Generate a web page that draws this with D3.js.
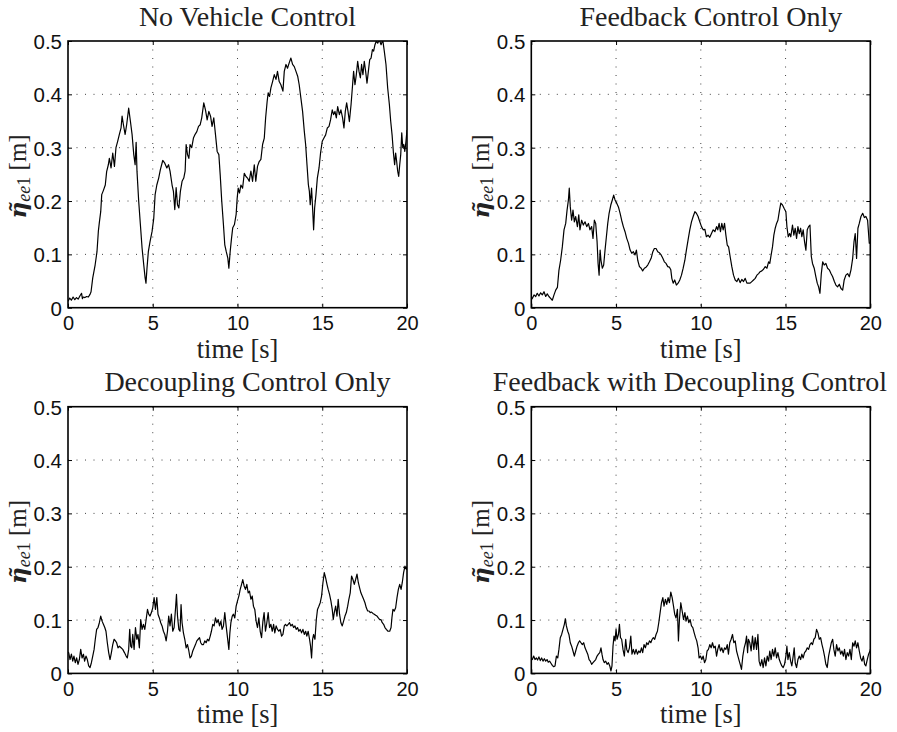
<!DOCTYPE html>
<html>
<head>
<meta charset="utf-8">
<script src="https://cdn.jsdelivr.net/npm/d3@7"></script>
<style>
  html, body { margin: 0; padding: 0; background: #fff; }
  svg { display: block; }
</style>
</head>
<body>
<svg id="chart" width="897" height="732"></svg>
<script>
// ---------------- data ----------------
const titles = ["No Vehicle Control", "Feedback Control Only", "Decoupling Control Only", "Feedback with Decoupling Control"];
const xTicks = [0, 5, 10, 15, 20];
const yTicks = [0, 0.1, 0.2, 0.3, 0.4, 0.5];
const yTickLabels = ["0", "0.1", "0.2", "0.3", "0.4", "0.5"];
const xTickLabels = ["0", "5", "10", "15", "20"];

// [time (s), eta (m)]
const noControl = [[0,.012],[.1,.018],[.2,.014],[.3,.02],[.4,.015],[.5,.019],[.6,.016],[.7,.022],[.8,.027],[.85,.017],[.9,.02],[1,.019],[1.1,.021],[1.2,.02],[1.3,.025],[1.36,.03],[1.46,.056],[1.6,.08],[1.71,.105],[1.79,.143],[1.85,.16],[1.93,.18],[1.99,.212],[2.09,.22],[2.2,.23],[2.28,.255],[2.38,.268],[2.44,.28],[2.54,.262],[2.64,.29],[2.74,.265],[2.83,.3],[2.93,.312],[3.03,.325],[3.13,.337],[3.19,.359],[3.27,.343],[3.37,.325],[3.46,.343],[3.58,.374],[3.68,.35],[3.78,.325],[3.88,.287],[3.96,.268],[4.02,.31],[4.07,.256],[4.17,.2],[4.27,.156],[4.37,.112],[4.47,.08],[4.55,.056],[4.6,.046],[4.66,.074],[4.74,.105],[4.84,.124],[4.96,.143],[5.06,.168],[5.14,.212],[5.24,.23],[5.35,.243],[5.45,.259],[5.59,.276],[5.71,.271],[5.83,.262],[5.93,.268],[6.02,.256],[6.14,.23],[6.22,.218],[6.3,.184],[6.38,.225],[6.46,.193],[6.54,.187],[6.63,.218],[6.73,.237],[6.83,.243],[6.91,.256],[6.97,.306],[7.05,.287],[7.13,.28],[7.2,.306],[7.3,.3],[7.4,.318],[7.5,.325],[7.6,.33],[7.7,.34],[7.8,.343],[7.89,.356],[8.01,.384],[8.11,.371],[8.21,.352],[8.31,.368],[8.41,.359],[8.5,.34],[8.6,.356],[8.7,.325],[8.8,.293],[8.9,.287],[8.98,.249],[9.07,.2],[9.17,.156],[9.25,.118],[9.33,.106],[9.43,.093],[9.49,.074],[9.57,.106],[9.65,.131],[9.72,.15],[9.82,.156],[9.92,.175],[9.98,.205],[10.04,.224],[10.12,.215],[10.2,.23],[10.3,.224],[10.4,.252],[10.5,.246],[10.59,.243],[10.69,.237],[10.79,.256],[10.89,.237],[10.99,.268],[11.08,.237],[11.18,.265],[11.28,.274],[11.38,.278],[11.48,.306],[11.58,.318],[11.66,.356],[11.75,.387],[11.81,.403],[11.89,.396],[11.97,.412],[12.07,.424],[12.17,.437],[12.27,.428],[12.36,.443],[12.46,.424],[12.56,.418],[12.68,.406],[12.76,.443],[12.86,.456],[12.95,.449],[13.05,.459],[13.15,.468],[13.25,.456],[13.35,.452],[13.45,.443],[13.55,.434],[13.64,.418],[13.74,.393],[13.84,.368],[13.94,.331],[14.02,.306],[14.1,.268],[14.18,.231],[14.24,.218],[14.29,.193],[14.37,.224],[14.43,.187],[14.49,.146],[14.55,.187],[14.63,.212],[14.71,.243],[14.81,.262],[14.9,.29],[15,.312],[15.1,.318],[15.2,.324],[15.3,.337],[15.4,.34],[15.49,.352],[15.59,.371],[15.67,.362],[15.75,.368],[15.83,.356],[15.91,.377],[16.01,.362],[16.1,.371],[16.2,.356],[16.28,.337],[16.36,.368],[16.44,.384],[16.52,.368],[16.6,.349],[16.7,.381],[16.79,.418],[16.85,.443],[16.93,.418],[17.01,.437],[17.09,.462],[17.17,.443],[17.25,.431],[17.32,.456],[17.4,.437],[17.48,.462],[17.56,.443],[17.64,.421],[17.72,.443],[17.8,.465],[17.88,.468],[17.96,.484],[18.03,.481],[18.11,.493],[18.19,.5],[18.27,.496],[18.37,.502],[18.47,.493],[18.57,.502],[18.66,.481],[18.76,.456],[18.86,.412],[18.96,.381],[19.04,.349],[19.12,.324],[19.2,.29],[19.27,.268],[19.33,.29],[19.39,.274],[19.45,.256],[19.51,.246],[19.57,.268],[19.63,.287],[19.69,.328],[19.75,.3],[19.81,.306],[19.87,.293],[19.94,.312],[20,.333]];

const feedbackOnly = [[0,.015],[.06,.0175],[.16,.024],[.26,.021],[.35,.027],[.45,.022],[.55,.028],[.65,.024],[.75,.03],[.85,.021],[.94,.026],[1.04,.021],[1.14,.0175],[1.24,.014],[1.34,.024],[1.44,.033],[1.54,.038],[1.63,.07],[1.73,.089],[1.83,.114],[1.93,.146],[2.03,.158],[2.11,.183],[2.19,.202],[2.24,.224],[2.3,.189],[2.38,.164],[2.46,.183],[2.54,.161],[2.62,.171],[2.72,.152],[2.8,.174],[2.87,.146],[2.97,.164],[3.07,.155],[3.17,.161],[3.27,.152],[3.37,.158],[3.46,.146],[3.56,.152],[3.64,.13],[3.72,.164],[3.8,.158],[3.88,.124],[3.94,.083],[4,.061],[4.06,.108],[4.11,.089],[4.19,.074],[4.27,.08],[4.35,.108],[4.43,.133],[4.51,.158],[4.59,.177],[4.69,.1925],[4.78,.202],[4.86,.211],[4.94,.202],[5.04,.196],[5.14,.189],[5.24,.177],[5.33,.164],[5.43,.152],[5.53,.1425],[5.63,.13],[5.73,.121],[5.83,.108],[5.93,.102],[6.02,.105],[6.12,.099],[6.2,.108],[6.28,.089],[6.38,.077],[6.48,.074],[6.57,.069],[6.67,.074],[6.77,.076],[6.87,.08],[6.97,.086],[7.07,.0925],[7.17,.105],[7.26,.111],[7.36,.111],[7.46,.105],[7.56,.103],[7.66,.099],[7.76,.0925],[7.85,.086],[7.95,.083],[8.05,.077],[8.15,.076],[8.23,.071],[8.29,.055],[8.37,.046],[8.46,.052],[8.56,.0425],[8.66,.046],[8.76,.052],[8.86,.061],[8.96,.074],[9.06,.089],[9.15,.108],[9.25,.127],[9.35,.146],[9.45,.161],[9.55,.171],[9.65,.18],[9.74,.177],[9.84,.171],[9.94,.161],[10.04,.152],[10.14,.146],[10.24,.147],[10.33,.133],[10.43,.136],[10.53,.132],[10.63,.139],[10.73,.146],[10.83,.1425],[10.93,.152],[11,.146],[11.08,.158],[11.16,.1425],[11.24,.158],[11.32,.146],[11.4,.158],[11.48,.136],[11.56,.1175],[11.64,.114],[11.73,.096],[11.83,.077],[11.93,.061],[12.03,.052],[12.13,.049],[12.22,.055],[12.32,.047],[12.42,.053],[12.52,.049],[12.62,.055],[12.72,.046],[12.81,.046],[12.91,.046],[13.01,.049],[13.11,.052],[13.21,.055],[13.31,.061],[13.41,.064],[13.5,.0675],[13.6,.069],[13.7,.072],[13.8,.077],[13.9,.074],[14,.086],[14.07,.083],[14.15,.099],[14.23,.114],[14.31,.136],[14.39,.149],[14.47,.158],[14.55,.164],[14.63,.18],[14.72,.196],[14.82,.1925],[14.92,.186],[15.02,.18],[15.08,.152],[15.16,.133],[15.24,.139],[15.31,.133],[15.41,.155],[15.49,.136],[15.57,.149],[15.65,.13],[15.73,.152],[15.81,.139],[15.89,.149],[15.96,.133],[16.04,.146],[16.12,.124],[16.2,.108],[16.28,.146],[16.36,.152],[16.44,.155],[16.52,.096],[16.59,.083],[16.69,.074],[16.79,.058],[16.87,.046],[16.95,.039],[17.03,.027],[17.11,.064],[17.19,.086],[17.28,.08],[17.38,.083],[17.48,.074],[17.58,.071],[17.68,.064],[17.78,.058],[17.88,.049],[17.97,.0425],[18.07,.039],[18.17,.044],[18.27,.036],[18.37,.033],[18.46,.052],[18.56,.061],[18.66,.064],[18.76,.058],[18.86,.071],[18.96,.0925],[19.04,.124],[19.11,.139],[19.19,.0925],[19.27,.149],[19.35,.158],[19.45,.171],[19.55,.177],[19.65,.169],[19.74,.171],[19.84,.164],[19.94,.121],[20,.121]];

const decouplingOnly = [[0,.04],[.04,.039],[.12,.026],[.2,.036],[.28,.023],[.35,.0325],[.43,.02],[.51,.029],[.59,.017],[.67,.026],[.75,.045],[.83,.029],[.91,.036],[.98,.023],[1.06,.0325],[1.14,.026],[1.22,.014],[1.3,.011],[1.38,.02],[1.46,.0325],[1.54,.045],[1.61,.064],[1.69,.0825],[1.77,.086],[1.85,.095],[1.93,.1075],[2.01,.098],[2.09,.092],[2.17,.086],[2.24,.079],[2.32,.0575],[2.4,.039],[2.48,.026],[2.56,.039],[2.64,.054],[2.72,.064],[2.8,.061],[2.87,.0575],[2.95,.048],[3.03,.051],[3.13,.048],[3.23,.045],[3.33,.039],[3.43,.0325],[3.5,.029],[3.58,.045],[3.64,.0825],[3.7,.051],[3.76,.048],[3.82,.073],[3.9,.045],[3.98,.086],[4.06,.064],[4.13,.073],[4.21,.048],[4.29,.101],[4.37,.0825],[4.45,.092],[4.53,.0825],[4.61,.101],[4.69,.12],[4.76,.111],[4.84,.1075],[4.92,.114],[5,.123],[5.08,.142],[5.16,.12],[5.24,.142],[5.31,.111],[5.39,.104],[5.47,.095],[5.55,.089],[5.63,.079],[5.71,.073],[5.79,.061],[5.87,.079],[5.94,.1075],[6.02,.089],[6.1,.111],[6.18,.079],[6.26,.086],[6.34,.12],[6.4,.148],[6.46,.1075],[6.54,.0825],[6.61,.079],[6.67,.129],[6.73,.095],[6.81,.076],[6.89,.064],[6.97,.048],[7.05,.054],[7.13,.042],[7.2,.029],[7.28,.0325],[7.36,.042],[7.44,.048],[7.52,.054],[7.6,.061],[7.68,.064],[7.76,.067],[7.83,.0575],[7.91,.054],[7.99,.054],[8.07,.061],[8.15,.0575],[8.23,.064],[8.31,.061],[8.39,.07],[8.46,.079],[8.54,.092],[8.62,.089],[8.7,.104],[8.78,.095],[8.86,.101],[8.94,.089],[9.02,.098],[9.09,.0825],[9.17,.089],[9.25,.114],[9.33,.089],[9.41,.067],[9.49,.045],[9.55,.076],[9.61,.095],[9.69,.1075],[9.76,.111],[9.84,.104],[9.92,.126],[10,.136],[10.08,.145],[10.16,.1575],[10.24,.167],[10.31,.176],[10.39,.164],[10.47,.1575],[10.55,.167],[10.63,.151],[10.71,.154],[10.79,.139],[10.87,.145],[10.94,.126],[11.02,.12],[11.1,.098],[11.18,.086],[11.26,.104],[11.34,.079],[11.42,.067],[11.5,.098],[11.57,.114],[11.65,.079],[11.73,.095],[11.81,.114],[11.89,.086],[11.97,.092],[12.05,.079],[12.13,.092],[12.2,.076],[12.28,.089],[12.36,.0825],[12.44,.079],[12.52,.0825],[12.6,.07],[12.68,.073],[12.76,.089],[12.83,.092],[12.91,.089],[12.99,.092],[13.07,.095],[13.15,.089],[13.23,.092],[13.31,.086],[13.39,.089],[13.46,.0825],[13.54,.086],[13.62,.079],[13.7,.0825],[13.78,.076],[13.86,.0825],[13.94,.073],[14.02,.079],[14.09,.07],[14.17,.079],[14.25,.064],[14.31,.051],[14.37,.029],[14.43,.064],[14.49,.073],[14.57,.064],[14.65,.101],[14.72,.12],[14.8,.126],[14.88,.1325],[14.96,.145],[15.04,.17],[15.12,.189],[15.2,.179],[15.28,.167],[15.35,.1575],[15.43,.148],[15.51,.136],[15.59,.12],[15.65,.101],[15.71,.114],[15.79,.126],[15.87,.1075],[15.94,.139],[16.02,.111],[16.1,.095],[16.18,.089],[16.26,.098],[16.34,.1075],[16.42,.114],[16.5,.126],[16.57,.139],[16.65,.151],[16.73,.1825],[16.81,.176],[16.89,.167],[16.97,.176],[17.05,.186],[17.13,.17],[17.2,.161],[17.28,.151],[17.36,.145],[17.44,.139],[17.52,.1325],[17.6,.123],[17.68,.117],[17.76,.117],[17.83,.114],[17.91,.115],[17.99,.1125],[18.07,.111],[18.15,.109],[18.23,.1075],[18.31,.104],[18.39,.101],[18.46,.101],[18.54,.095],[18.62,.092],[18.7,.086],[18.78,.0825],[18.88,.079],[18.98,.079],[19.06,.086],[19.11,.104],[19.17,.12],[19.25,.117],[19.33,.123],[19.41,.142],[19.49,.1575],[19.57,.167],[19.65,.1575],[19.72,.17],[19.8,.189],[19.88,.201],[19.96,.195],[20,.2]];

const feedbackDecoupling = [[0,.025],[.06,.026],[.14,.0325],[.22,.026],[.3,.029],[.37,.025],[.45,.031],[.53,.024],[.61,.029],[.69,.023],[.77,.0275],[.85,.023],[.93,.026],[1,.021],[1.08,.023],[1.16,.019],[1.24,.015],[1.32,.0125],[1.4,.014],[1.48,.0325],[1.56,.029],[1.63,.045],[1.71,.067],[1.79,.073],[1.87,.0825],[1.95,.092],[2.01,.1025],[2.07,.089],[2.15,.079],[2.22,.073],[2.3,.0575],[2.38,.051],[2.46,.042],[2.54,.0325],[2.62,.042],[2.7,.051],[2.78,.0575],[2.85,.061],[2.93,.0575],[3.01,.054],[3.09,.0575],[3.17,.048],[3.25,.042],[3.33,.036],[3.41,.026],[3.48,.023],[3.56,.017],[3.64,.02],[3.72,.023],[3.8,.026],[3.88,.0325],[3.96,.036],[4.04,.039],[4.11,.048],[4.17,.036],[4.23,.026],[4.31,.02],[4.39,.023],[4.47,.017],[4.55,.02],[4.63,.014],[4.7,.0045],[4.76,.014],[4.82,.051],[4.88,.07],[4.94,.061],[5,.0825],[5.06,.064],[5.14,.073],[5.2,.092],[5.26,.067],[5.33,.064],[5.41,.045],[5.49,.0325],[5.57,.064],[5.63,.045],[5.71,.039],[5.79,.048],[5.87,.07],[5.94,.036],[6.02,.045],[6.1,.036],[6.18,.045],[6.26,.036],[6.34,.042],[6.42,.039],[6.5,.048],[6.57,.039],[6.65,.054],[6.73,.048],[6.81,.0575],[6.89,.054],[6.97,.061],[7.05,.0575],[7.13,.064],[7.2,.067],[7.28,.064],[7.36,.073],[7.44,.079],[7.52,.095],[7.6,.114],[7.68,.1325],[7.76,.142],[7.83,.126],[7.91,.139],[7.99,.1295],[8.07,.142],[8.15,.1325],[8.23,.1525],[8.31,.142],[8.39,.126],[8.46,.111],[8.54,.104],[8.62,.12],[8.68,.061],[8.74,.101],[8.82,.1325],[8.9,.117],[8.98,.101],[9.06,.114],[9.13,.098],[9.21,.1075],[9.29,.095],[9.37,.101],[9.45,.089],[9.53,.086],[9.61,.076],[9.69,.067],[9.76,.061],[9.84,.048],[9.9,.029],[9.98,.0325],[10.06,.026],[10.14,.0325],[10.22,.02],[10.3,.026],[10.37,.042],[10.45,.045],[10.53,.054],[10.61,.048],[10.69,.0575],[10.77,.048],[10.85,.051],[10.93,.0325],[11,.045],[11.08,.054],[11.16,.042],[11.24,.048],[11.32,.039],[11.4,.048],[11.48,.045],[11.56,.054],[11.63,.036],[11.71,.0575],[11.79,.064],[11.87,.073],[11.95,.0575],[12.03,.061],[12.11,.042],[12.19,.0325],[12.27,.023],[12.35,.014],[12.4,.0075],[12.48,.0325],[12.56,.048],[12.64,.0575],[12.7,.07],[12.76,.039],[12.81,.064],[12.89,.0575],[12.97,.042],[13.05,.07],[13.13,.045],[13.21,.067],[13.29,.045],[13.37,.073],[13.44,.023],[13.52,.014],[13.6,.026],[13.68,.011],[13.76,.029],[13.84,.014],[13.92,.0325],[14,.023],[14.07,.042],[14.15,.026],[14.23,.045],[14.31,.0325],[14.39,.048],[14.47,.029],[14.55,.039],[14.63,.026],[14.7,.02],[14.78,.014],[14.86,.011],[14.94,.017],[15.02,.0325],[15.08,.051],[15.14,.026],[15.22,.039],[15.3,.023],[15.37,.014],[15.45,.0325],[15.51,.048],[15.57,.02],[15.65,.011],[15.73,.026],[15.81,.0325],[15.89,.026],[15.96,.036],[16.04,.029],[16.12,.039],[16.2,.042],[16.28,.048],[16.36,.045],[16.44,.054],[16.52,.0575],[16.59,.054],[16.67,.064],[16.75,.067],[16.83,.0825],[16.91,.076],[16.99,.064],[17.07,.067],[17.15,.054],[17.22,.045],[17.3,.0325],[17.38,.017],[17.46,.011],[17.54,.0325],[17.62,.045],[17.7,.0575],[17.78,.064],[17.85,.045],[17.93,.0325],[18.01,.054],[18.09,.042],[18.17,.048],[18.25,.036],[18.33,.042],[18.41,.0325],[18.48,.045],[18.56,.026],[18.64,.039],[18.72,.0325],[18.8,.045],[18.88,.026],[18.96,.0575],[19.04,.051],[19.11,.061],[19.19,.048],[19.27,.0575],[19.35,.042],[19.43,.029],[19.51,.023],[19.59,.0325],[19.67,.017],[19.74,.014],[19.82,.026],[19.9,.036],[19.98,.042],[20,.045]];

const seriesList = [noControl, feedbackOnly, decouplingOnly, feedbackDecoupling];

// ---------------- layout ----------------
const W = 897;
const plotW = 339, plotH = 266.7;
const origins = [[68, 41], [531.3, 41], [68, 406.7], [531.3, 406.7]];
const serif = "'Liberation Serif', 'Times New Roman', serif";
const sans = "'Liberation Sans', Arial, Helvetica, sans-serif";

const svg = d3.select("#chart");
const x = d3.scaleLinear().domain([0, 20]).range([0, plotW]);
const y = d3.scaleLinear().domain([0, 0.5]).range([plotH, 0]);

seriesList.forEach((data, i) => {
  const [ox, oy] = origins[i];
  const g = svg.append("g").attr("transform", `translate(${ox},${oy})`);

  const clipId = "clip" + i;
  g.append("clipPath").attr("id", clipId)
    .append("rect").attr("x", 0).attr("y", 0).attr("width", plotW).attr("height", plotH);

  // grid
  const grid = g.append("g").attr("stroke", "#444").attr("stroke-width", 1)
    .attr("stroke-dasharray", "1,7.5");
  grid.selectAll("line.vx").data(xTicks.filter(d => d > 0 && d < 20)).join("line")
    .attr("x1", d => x(d)).attr("x2", d => x(d)).attr("y1", 0).attr("y2", plotH);
  grid.selectAll("line.hy").data(yTicks.filter(d => d > 0 && d < 0.5)).join("line")
    .attr("x1", 0).attr("x2", plotW).attr("y1", d => y(d)).attr("y2", d => y(d));

  // data line
  const line = d3.line().x(d => x(d[0])).y(d => y(d[1]));
  g.append("path").datum(data)
    .attr("clip-path", `url(#${clipId})`)
    .attr("fill", "none").attr("stroke", "#000").attr("stroke-width", 1.2)
    .attr("stroke-linejoin", "round")
    .attr("d", line);

  // axes
  const bottom = g.append("g").attr("transform", `translate(0,${plotH})`)
    .call(d3.axisBottom(x).tickValues(xTicks).tickFormat((d, k) => xTickLabels[k])
      .tickSizeInner(-4).tickSizeOuter(0).tickPadding(9));
  const left = g.append("g")
    .call(d3.axisLeft(y).tickValues(yTicks).tickFormat((d, k) => yTickLabels[k])
      .tickSizeInner(-4).tickSizeOuter(0).tickPadding(6));
  g.append("g").call(d3.axisTop(x).tickValues(xTicks).tickFormat("").tickSizeInner(-4).tickSizeOuter(0));
  g.append("g").attr("transform", `translate(${plotW},0)`)
    .call(d3.axisRight(y).tickValues(yTicks).tickFormat("").tickSizeInner(-4).tickSizeOuter(0));

  g.selectAll(".domain").remove();
  g.selectAll(".tick line").attr("stroke", "#000").attr("stroke-width", 1);
  [bottom, left].forEach(a => a.selectAll(".tick text")
    .attr("font-family", sans).attr("font-size", 20.5).attr("fill", "#111"));
  left.selectAll(".tick text").attr("dy", "0.36em");
  bottom.selectAll(".tick text").attr("font-size", 20).attr("dy", "0.68em");

  // box
  g.append("rect").attr("x", 0).attr("y", 0).attr("width", plotW).attr("height", plotH)
    .attr("fill", "none").attr("stroke", "#000").attr("stroke-width", 1.6);

  // title (slightly right of centre, kept inside the figure)
  const title = g.append("text").attr("x", plotW / 2 + 10).attr("y", -15.5)
    .attr("text-anchor", "middle").attr("font-family", serif).attr("font-size", 28)
    .attr("fill", "#222").text(titles[i]);
  const tw = title.node().getComputedTextLength();
  const rightLimit = W - 10 - ox;
  if (plotW / 2 + 10 + tw / 2 > rightLimit) title.attr("x", rightLimit - tw / 2);

  // x label
  g.append("text").attr("x", plotW / 2).attr("y", plotH + 50)
    .attr("text-anchor", "middle").attr("font-family", serif).attr("font-size", 26.5)
    .attr("fill", "#222").text("time [s]");

  // y label
  const yl = g.append("text")
    .attr("transform", `translate(-42,${plotH / 2 + 2}) rotate(-90)`)
    .attr("text-anchor", "middle").attr("font-family", serif).attr("font-size", 25)
    .attr("fill", "#222");
  yl.append("tspan").attr("font-family", "'DejaVu Serif', serif").attr("font-weight", "bold")
    .attr("font-style", "italic").attr("font-size", 23).text("\u03B7\u0303");
  yl.append("tspan").attr("font-style", "italic").attr("font-size", 18).attr("dy", 4).text("ee");
  yl.append("tspan").attr("font-size", 18).text("1");
  yl.append("tspan").attr("dy", -4).text(" [m]");
});
</script>
</body>
</html>
